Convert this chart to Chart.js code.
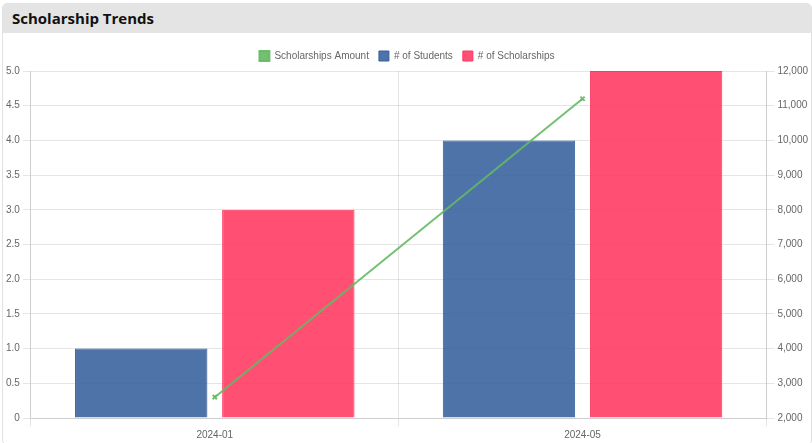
<!DOCTYPE html>
<html>
<head>
<meta charset="utf-8">
<script src="https://cdn.jsdelivr.net/npm/chart.js@4"></script>
<style>
  body { margin: 0; background: #fff; font-family: "Open Sans", sans-serif; }
  .card { position: absolute; left: 2px; top: 3px; width: 808px; height: 440px; border: 1px solid #e2e2e2; border-radius: 5px; overflow: hidden; }
  .head { height: 29px; background: #e4e4e4; font-weight: 700; font-size: 15px; line-height: 29px; padding-left: 9px; color: #111; }
  .body { position: absolute; left: 0; top: 37px; width: 808px; height: 403px; }
</style>
</head>
<body>
<div class="card">
  <div class="head">Scholarship Trends</div>
  <div class="body"><canvas id="chart"></canvas></div>
</div>
<script>
const categories = ['2024-01', '2024-05'];
const students = [1, 4];
const scholarships = [3, 5];
const amounts = [2600, 11200];

const ctx = document.getElementById('chart').getContext('2d');
const myChart = new Chart(ctx, {
    type: 'bar',
    data: {
        labels: categories,
        datasets: [
            {
                label: '# of Students',
                data: students,
                backgroundColor: 'rgba(54, 96, 157, 0.88)',
                borderColor: 'rgba(54, 96, 157, 1)',
                borderWidth: 1,
                yAxisID: 'y',
                order: 2
            },
            {
                label: '# of Scholarships',
                data: scholarships,
                backgroundColor: 'rgba(255, 56, 96, 0.88)',
                borderColor: 'rgba(255, 56, 96, 1)',
                borderWidth: 1,
                yAxisID: 'y',
                order: 2
            },
            {
                type: 'line',
                label: 'Scholarships Amount',
                data: amounts,
                borderColor: 'rgba(100, 185, 100, 0.9)',
                backgroundColor: 'rgba(100, 185, 100, 0.9)',
                borderWidth: 2,
                pointStyle: 'crossRot',
                pointRadius: 3,
                fill: false,
                yAxisID: 'y1',
                order: 1
            }
        ]
    },
    options: {
        responsive: true,
        maintainAspectRatio: false,
        animation: false,
        plugins: {
            legend: {
                labels: { usePointStyle: false, boxWidth: 10, boxHeight: 10, font: { size: 10, family: 'Liberation Sans' }, color: '#666' }
            }
        },
        scales: {
            x: {
                ticks: { font: { size: 10, family: 'Liberation Sans' }, color: '#666' }
            },
            y: {
                position: 'left',
                min: 0,
                max: 5,
                ticks: { stepSize: 0.5, font: { size: 10, family: 'Liberation Sans' }, color: '#666',
                    callback: v => v === 0 ? '0' : v.toFixed(1) }
            },
            y1: {
                position: 'right',
                min: 2000,
                max: 12000,
                grid: { drawOnChartArea: false },
                ticks: { stepSize: 1000, font: { size: 10, family: 'Liberation Sans' }, color: '#666' }
            }
        }
    }
});
</script>
</body>
</html>
